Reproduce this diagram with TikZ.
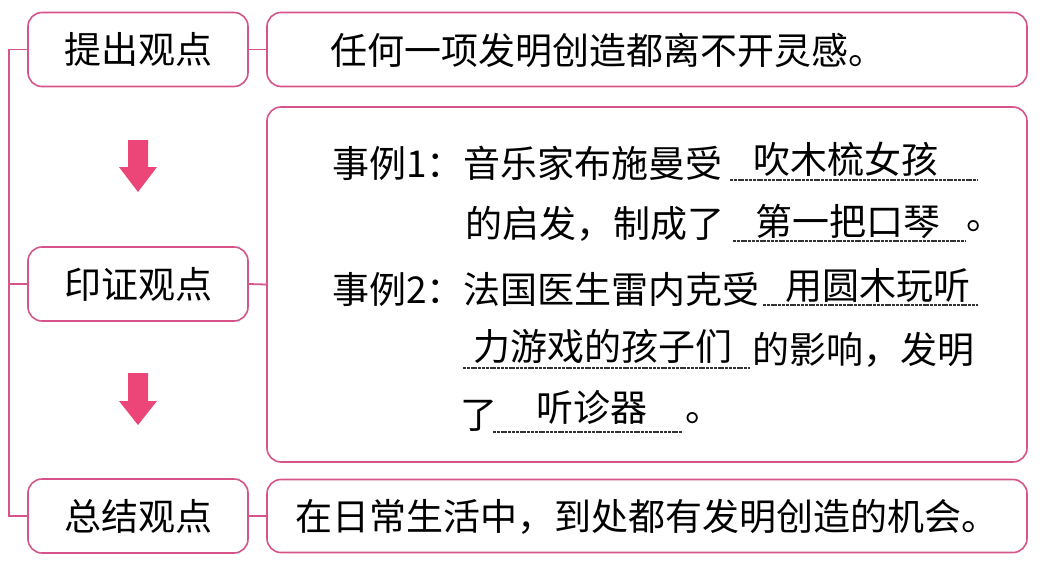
\documentclass[tikz,border=0pt]{standalone}
\usepackage{fontspec}
\newfontfamily\cjk{Noto Sans CJK SC}
\definecolor{pinkline}{RGB}{214,84,138}
\definecolor{pinkarrow}{RGB}{236,70,120}
\begin{document}
\begin{tikzpicture}[x=1pt,y=-1pt,
  box/.style={draw=pinkline, line width=1.6pt, rounded corners=14pt, inner sep=0pt,
              font=\cjk\fontsize{37}{40}\selectfont},
  lbox/.style={box, minimum width=220pt, minimum height=74pt},
  rbox/.style={box, minimum width=760pt},
  txt/.style={inner sep=0pt, font=\cjk\fontsize{37}{40}\selectfont, anchor=west},
  ans/.style={inner sep=0pt, font=\cjk\fontsize{37}{40}\selectfont},
  uline/.style={draw=black!80, line width=1.3pt, dash pattern=on 3pt off 0.8pt},
  conn/.style={draw=pinkline, line width=1.8pt},
  arr/.style={fill=pinkarrow}]
\useasboundingbox (0,0) rectangle (1060,570);
% left boxes
\node[lbox] (p1) at (138,49.5) {提出观点};
\node[lbox] (p2) at (138,284) {印证观点};
\node[lbox] (p3) at (138,516) {总结观点};
% right boxes
\node[rbox, minimum height=74pt] (r1) at (647,49.5) {};
\node[rbox, minimum height=355pt] (r2) at (647,284.5) {};
\node[rbox, minimum height=73pt] (r3) at (647,516) {};
% connectors
\draw[conn] (p1.east) -- (r1.west);
\draw[conn] (p2.east) -- (r2.west);
\draw[conn] (p3.east) -- (r3.west);
\coordinate (bt) at (9,49.5);
\coordinate (bb) at (9,516);
\draw[conn] (p1.west) -- (bt) -- (bb) -- (p3.west);
\draw[conn] (p2.west) -- (p2.west -| bt);
% arrows
\fill[arr] (128,140) -- (148,140) -- (148,167) -- (157,167) -- (138,192) -- (119,167) -- (128,167) -- cycle;
\fill[arr] (128,373) -- (148,373) -- (148,401) -- (157,401) -- (138,425) -- (119,401) -- (128,401) -- cycle;
% texts
\node[txt] (t1) at (330,50) {任何一项发明创造都离不开灵感。};
\node[txt] (t3) at (295,517) {在日常生活中，到处都有发明创造的机会。};
% example 1
\node[txt] (e1a) at (332,163) {事例1：};
\node[txt] (e1b) at (463,163) {音乐家布施曼受};
\coordinate (u1a) at (730,180); \coordinate (u1b) at (978,180);
\draw[uline] (u1a) -- (u1b);
\node[ans] (a1) at (846,159) {吹木梳女孩};
\node[txt] (e1c) at (465,224) {的启发，制成了};
\coordinate (u2a) at (733,241); \coordinate (u2b) at (965,241);
\draw[uline] (u2a) -- (u2b);
\node[ans] (a2) at (848,221) {第一把口琴};
\node[txt] (e1d) at (966,226) {。};
% example 2
\node[txt] (e2a) at (332,289) {事例2：};
\node[txt] (e2b) at (463,289) {法国医生雷内克受};
\coordinate (u3a) at (763,305); \coordinate (u3b) at (978,305);
\draw[uline] (u3a) -- (u3b);
\node[ans] (a3) at (878,286) {用圆木玩听};
\coordinate (u4a) at (463,368); \coordinate (u4b) at (750,368);
\draw[uline] (u4a) -- (u4b);
\node[ans] (a4) at (603,346) {力游戏的孩子们};
\node[txt] (e2c) at (752,350) {的影响，发明};
\node[txt] (e2d) at (460,416) {了};
\coordinate (u5a) at (493,432); \coordinate (u5b) at (683,432);
\draw[uline] (u5a) -- (u5b);
\node[ans] (a5) at (592,407) {听诊器};
\node[txt] (e2e) at (685,418) {。};
\end{tikzpicture}
\end{document}
